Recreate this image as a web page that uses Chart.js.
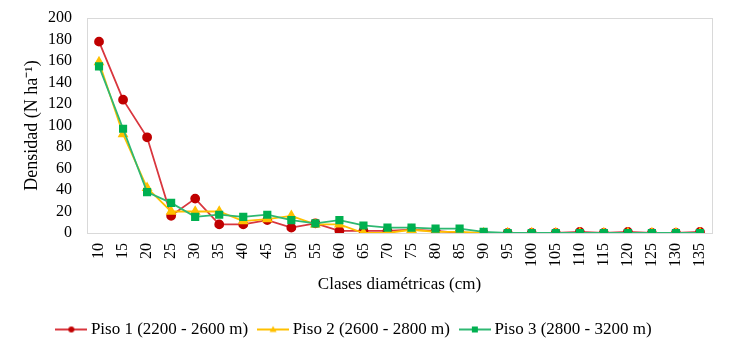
<!DOCTYPE html>
<html>
<head>
<meta charset="utf-8">
<script src="https://cdn.jsdelivr.net/npm/chart.js@4/dist/chart.umd.min.js"></script>
<style>
  html, body { margin: 0; padding: 0; background: #fff; }
  #wrap { width: 735px; height: 355px; }
</style>
</head>
<body>
<div id="wrap"><canvas id="myChart" width="735" height="355"></canvas></div>
<script>
// Données
const clases = ['10', '15', '20', '25', '30', '35', '40', '45', '50', '55', '60', '65', '70',
  '75', '80', '85', '90', '95', '100', '105', '110', '115', '120', '125', '130', '135']
const piso1 = [178, 124, 89, 16, 32, 8, 8, 12, 5, 9, 2, 2, 2, 3, 2, 0, 0, 0, 0, 0, 1, 0, 1, 0, 0, 1]
const piso2 = [159, 92, 42, 20, 20, 20, 11, 13, 16, 8, 8, 0, 0, 3, 1, 1, 0, 0, 0, 0, 0, 0, 0, 0, 0, 0]
const piso3 = [155, 97, 38, 28, 15, 17, 15, 17, 12, 9, 12, 7, 5, 5, 4, 4, 1, 0, 0, 0, 0, 0, 0, 0, 0, 0]
const yTicks = [0, 20, 40, 60, 80, 100, 120, 140, 160, 180, 200]

const police = '"Liberation Serif", "Times New Roman", serif'

// petite image ligne + marqueur pour la légende
function iconeLegende (couleurLigne, couleurPoint, forme) {
  const c = document.createElement('canvas')
  c.width = 32
  c.height = 10
  const g = c.getContext('2d')
  g.strokeStyle = couleurLigne
  g.lineWidth = 2
  g.beginPath()
  g.moveTo(0, 5)
  g.lineTo(32, 5)
  g.stroke()
  g.fillStyle = couleurPoint
  g.beginPath()
  if (forme === 'circle') {
    g.arc(16, 5, 3, 0, Math.PI * 2)
  } else if (forme === 'triangle') {
    g.moveTo(16, 1.5)
    g.lineTo(19.5, 7.5)
    g.lineTo(12.5, 7.5)
    g.closePath()
  } else {
    g.rect(13, 2, 6, 6)
  }
  g.fill()
  return c
}

const series = [
  { label: 'Piso 1 (2200 - 2600 m)', data: piso1, ligne: '#D9363E', point: '#C00000', forme: 'circle', order: 3, rayon: 4 },
  { label: 'Piso 2 (2600 - 2800 m)', data: piso2, ligne: '#FFC000', point: '#FFC000', forme: 'triangle', order: 2, rayon: 4.5 },
  { label: 'Piso 3 (2800 - 3200 m)', data: piso3, ligne: '#2EB872', point: '#00B050', forme: 'rect', order: 1, rayon: 4.5 }
]

const cadre = {
  id: 'cadre',
  afterDraw (chart) {
    const a = chart.chartArea
    const ctx = chart.ctx
    ctx.save()
    ctx.strokeStyle = '#D9D9D9'
    ctx.lineWidth = 1
    ctx.strokeRect(Math.round(a.left) + 0.5, Math.round(a.top) + 0.5, Math.round(a.right - a.left), Math.round(a.bottom - a.top))
    ctx.restore()
  }
}

let ctx = document.querySelector('#myChart')
new Chart(ctx, {
  type: 'line',
  data: {
    labels: clases,
    datasets: series.map(s => ({
      label: s.label,
      data: s.data,
      borderColor: s.ligne,
      backgroundColor: s.point,
      pointBackgroundColor: s.point,
      pointBorderColor: s.point,
      pointStyle: s.forme,
      pointRadius: s.rayon,
      borderWidth: 1.8,
      tension: 0,
      order: s.order
    }))
  },
  options: {
    responsive: false,
    animation: false,
    layout: { autoPadding: false, padding: { left: 0, right: 23, top: 18, bottom: 7 } },
    plugins: {
      tooltip: { enabled: false },
      legend: {
        position: 'bottom',
        labels: {
          font: { family: police, size: 17, weight: 'normal' },
          color: '#000',
          usePointStyle: true,
          pointStyleWidth: 22,
          boxWidth: 22,
          boxHeight: 10,
          padding: 14,
          generateLabels: () => series.map((s, i) => ({
            text: s.label,
            datasetIndex: i,
            pointStyle: iconeLegende(s.ligne, s.point, s.forme),
            fillStyle: s.point,
            strokeStyle: s.ligne,
            lineWidth: 0,
            fontColor: '#000'
          }))
        }
      }
    },
    scales: {
      x: {
        offset: true,
        grid: { display: false, drawTicks: false },
        border: { display: false },
        ticks: {
          minRotation: 90,
          maxRotation: 90,
          autoSkip: false,
          padding: 10,
          color: '#000',
          font: { family: police, size: 16, weight: 'normal' }
        },
        title: {
          display: true,
          text: 'Clases diamétricas (cm)',
          color: '#000',
          font: { family: police, size: 17, weight: 'normal' },
          padding: { top: 0, bottom: 12 }
        },
        afterFit: scale => { scale.height = 74 }
      },
      y: {
        min: 0,
        max: 200,
        afterBuildTicks: scale => { scale.ticks = yTicks.map(v => ({ value: v })) },
        grid: { display: false, drawTicks: false },
        border: { display: false },
        ticks: {
          autoSkip: false,
          padding: 15,
          color: '#000',
          font: { family: police, size: 16, weight: 'normal' }
        },
        title: {
          display: true,
          text: 'Densidad (N ha⁻¹)',
          color: '#000',
          font: { family: police, size: 18, weight: 'normal' },
          padding: { top: 21, bottom: 0 }
        },
        afterFit: scale => {
          scale.width = 87
          scale.paddingTop = 0
          scale.paddingBottom = 0
        }
      }
    }
  },
  plugins: [cadre]
})
</script>
</body>
</html>
